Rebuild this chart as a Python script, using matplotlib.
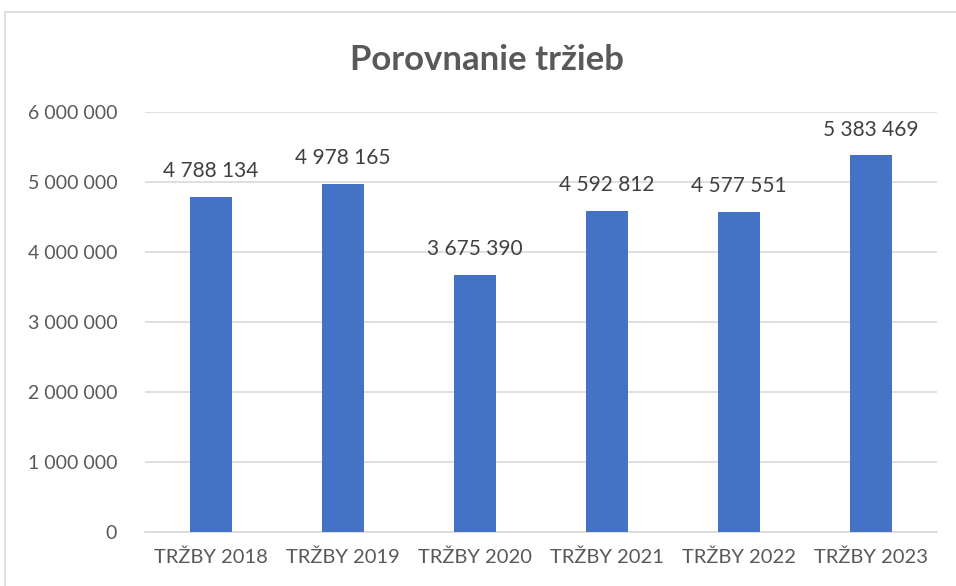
import matplotlib.pyplot as plt
from matplotlib.ticker import FuncFormatter
from matplotlib.patches import Rectangle

# Data
categories = ["TRŽBY 2018", "TRŽBY 2019", "TRŽBY 2020", "TRŽBY 2021", "TRŽBY 2022", "TRŽBY 2023"]
values = [4788134, 4978165, 3675390, 4592812, 4577551, 5383469]
yticks = [0, 1000000, 2000000, 3000000, 4000000, 5000000, 6000000]

plt.rcParams['font.family'] = ['Lato', 'DejaVu Sans']


def fmt(v, pos=None):
    return f"{int(v):,}".replace(",", " ")


fig = plt.figure(figsize=(9.56, 5.86), dpi=100)
ax = fig.add_axes([145 / 956, 1 - 532 / 586, 792 / 956, 420 / 586])

x = range(len(categories))
ax.bar(x, values, width=0.32, color='#4472C4', zorder=3)

# data labels above bars
for i, v in enumerate(values):
    ax.text(i, v + 220000, fmt(v), ha='center', va='bottom', fontsize=15, color='#404040')

ax.set_xlim(-0.5, len(categories) - 0.5)
ax.set_ylim(0, 6000000)
ax.set_yticks(yticks)
ax.yaxis.set_major_formatter(FuncFormatter(fmt))
ax.set_xticks(list(x))
ax.set_xticklabels(categories)
ax.tick_params(axis='both', length=0, labelsize=14, labelcolor='#595959')
ax.tick_params(axis='x', labelsize=14.5, pad=12)
ax.tick_params(axis='y', pad=20)
ax.grid(axis='y', color='#D9D9D9', linewidth=1.2, zorder=0)
for s in ['top', 'right', 'left']:
    ax.spines[s].set_visible(False)
ax.spines['bottom'].set_color('#D9D9D9')
ax.spines['bottom'].set_linewidth(1.2)

fig.text(487 / 956, 1 - 60 / 586, "Porovnanie tržieb", ha='center', va='center',
         fontsize=25, fontweight='bold', color='#595959')

# chart frame
fig.patches.append(Rectangle((5 / 956, -0.05), 1.0, 1 - 12 / 586 + 0.05, transform=fig.transFigure,
                             fill=False, edgecolor='#D9D9D9', linewidth=1.2))

fig.savefig('out.png', dpi=100)
